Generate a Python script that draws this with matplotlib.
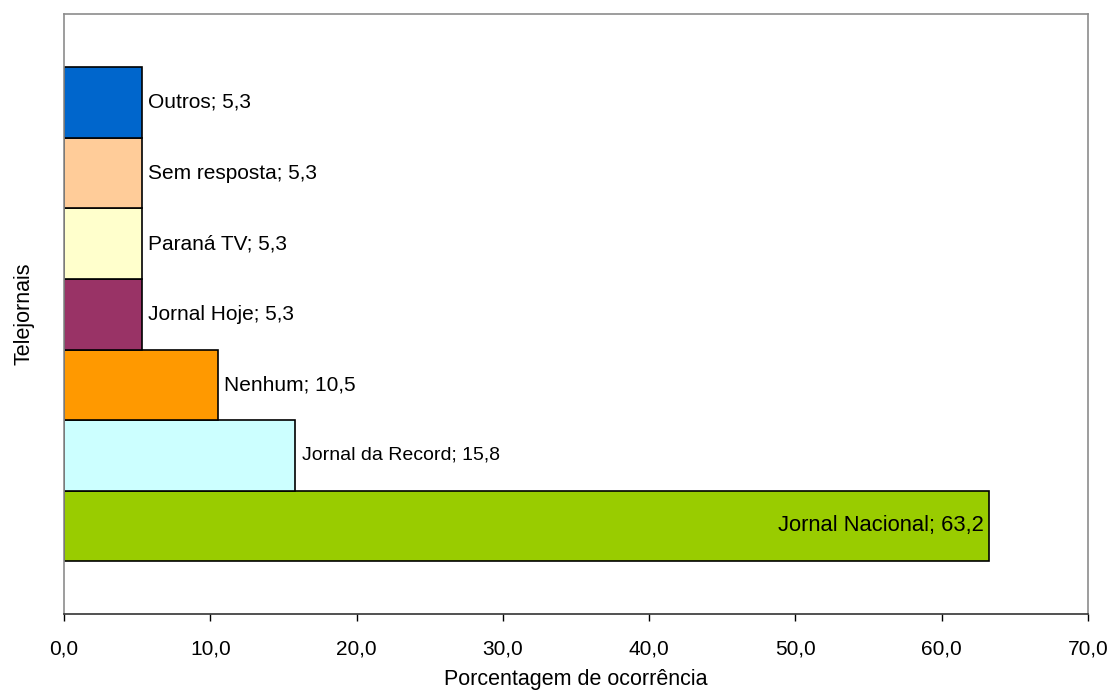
import numpy as np
import matplotlib.pyplot as plt

plt.rcParams['font.family'] = ['Liberation Sans', 'DejaVu Sans']

categorias = ['Jornal Nacional', 'Jornal da Record', 'Nenhum', 'Jornal Hoje',
              'Paraná TV', 'Sem resposta', 'Outros']
valores = [63.2, 15.8, 10.5, 5.3, 5.3, 5.3, 5.3]
cores = ['#99CC00', '#CCFFFF', '#FF9900', '#993366', '#FFFFCC', '#FFCC99', '#0066CC']
xticks = np.arange(0, 71, 10)


def fmt(v):
    return f'{v:.1f}'.replace('.', ',')


fig = plt.figure(figsize=(11.11, 6.92), dpi=100)
ax = fig.add_axes([0.0576, 0.1127, 0.9217, 0.8671])

pos = np.arange(len(categorias))
ax.barh(pos, valores, height=1.0, color=cores, edgecolor='black', linewidth=1.2)

# the long bar carries its label inside, the others just past the bar end
for i, (nome, v) in enumerate(zip(categorias, valores)):
    texto = f'{nome}; {fmt(v)}'
    if v > 50:
        ax.text(v - 0.3, i, texto, ha='right', va='center', fontsize=15.8)
    else:
        ax.text(v + 0.45, i, texto, ha='left', va='center',
                fontsize=14 if i == 1 else 15)

ax.set_xlim(0, 70)
ax.set_ylim(-1.247, 7.253)
ax.set_xticks(xticks)
ax.set_xticklabels([fmt(t) for t in xticks], fontsize=15)
ax.set_yticks([])
ax.tick_params(axis='x', direction='out', length=5, width=1, pad=13)

for s in ['top', 'right', 'left']:
    ax.spines[s].set_color('#8c8c8c')
    ax.spines[s].set_linewidth(1.2)
ax.spines['bottom'].set_color('#333333')
ax.spines['bottom'].set_linewidth(1.2)

ax.set_xlabel('Porcentagem de ocorrência', fontsize=15.5, labelpad=8)
ax.set_ylabel('Telejornais', fontsize=15.5, labelpad=21)

fig.savefig('out.png', dpi=100)
